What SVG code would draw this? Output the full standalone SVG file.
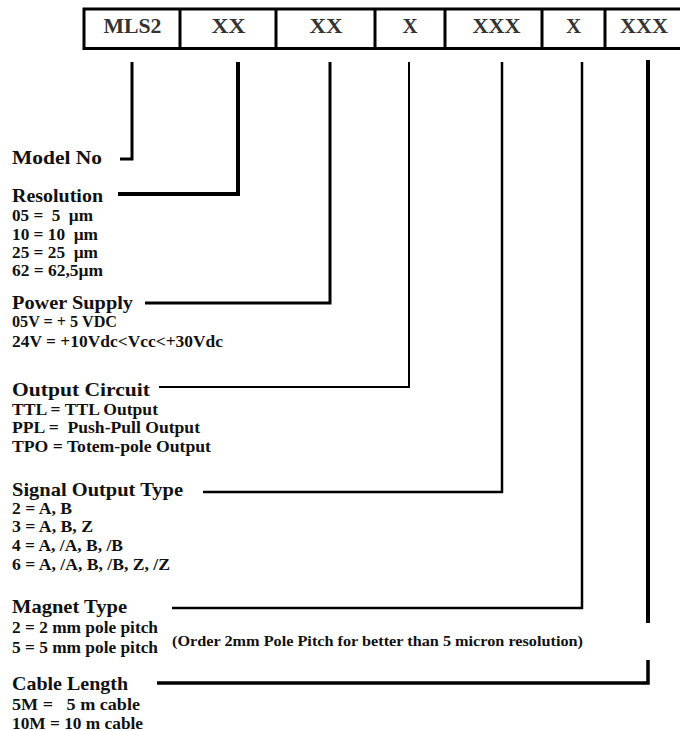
<svg xmlns="http://www.w3.org/2000/svg" width="680" height="731" viewBox="0 0 680 731">
<style>
text{font-family:"Liberation Serif","Times New Roman",serif;font-weight:bold;fill:#111}
.h{font-size:19px}
.i{font-size:16px}
.b{font-size:21px;fill:#333;text-anchor:middle}
.n{font-size:15px}
.box{fill:#fff;stroke:#000;stroke-width:3}
.c{fill:none;stroke:#000;stroke-linejoin:miter;stroke-linecap:butt}
</style>
<rect width="680" height="731" fill="#fff"/>
<g id="code-box">
<rect class="box" x="84" y="9" width="610" height="39.5"/>
<path class="c" stroke-width="3" d="M180 9V48.5M276 9V48.5M375 9V48.5M445 9V48.5M542 9V48.5M605 9V48.5"/>
<text class="b" x="132.5" y="33" textLength="58" lengthAdjust="spacingAndGlyphs">MLS2</text>
<text class="b" x="228.5" y="33" textLength="34" lengthAdjust="spacingAndGlyphs">XX</text>
<text class="b" x="326" y="33" textLength="33" lengthAdjust="spacingAndGlyphs">XX</text>
<text class="b" x="410" y="33">X</text>
<text class="b" x="496.5" y="33" textLength="48" lengthAdjust="spacingAndGlyphs">XXX</text>
<text class="b" x="573.5" y="33">X</text>
<text class="b" x="644" y="33" textLength="48" lengthAdjust="spacingAndGlyphs">XXX</text>
</g>
<g id="connectors">
<path class="c" stroke-width="3" d="M132 62V159H120"/>
<path class="c" stroke-width="4" d="M238 62V194H118"/>
<path class="c" stroke-width="3" d="M330 62V303H145"/>
<path class="c" stroke-width="2" d="M409 62V387H159"/>
<path class="c" stroke-width="2.5" d="M502 62V492H203"/>
<path class="c" stroke-width="2.5" d="M582 62V608H172"/>
<path class="c" stroke-width="4" d="M648 60V623"/>
<path class="c" stroke-width="3.5" d="M648 660V683H157"/>
</g>
<g id="model-no">
<text class="h" x="12" y="164" textLength="90" lengthAdjust="spacingAndGlyphs">Model No</text>
</g>
<g id="resolution">
<text class="h" x="12" y="202" textLength="91" lengthAdjust="spacingAndGlyphs">Resolution</text>
<text class="i" x="12" y="221" textLength="81" lengthAdjust="spacingAndGlyphs" xml:space="preserve">05 =  5  µm</text>
<text class="i" x="12" y="240" textLength="86" lengthAdjust="spacingAndGlyphs" xml:space="preserve">10 = 10  µm</text>
<text class="i" x="12" y="258" textLength="86" lengthAdjust="spacingAndGlyphs" xml:space="preserve">25 = 25  µm</text>
<text class="i" x="12" y="276" textLength="91" lengthAdjust="spacingAndGlyphs">62 = 62,5µm</text>
</g>
<g id="power-supply">
<text class="h" x="12" y="309" textLength="121" lengthAdjust="spacingAndGlyphs">Power Supply</text>
<text class="i" x="12" y="327" textLength="105" lengthAdjust="spacingAndGlyphs">05V = + 5 VDC</text>
<text class="i" x="12" y="347" textLength="211" lengthAdjust="spacingAndGlyphs">24V = +10Vdc&lt;Vcc&lt;+30Vdc</text>
</g>
<g id="output-circuit">
<text class="h" x="12" y="396" textLength="138" lengthAdjust="spacingAndGlyphs">Output Circuit</text>
<text class="i" x="12" y="415" textLength="146" lengthAdjust="spacingAndGlyphs">TTL = TTL Output</text>
<text class="i" x="12" y="433" textLength="188" lengthAdjust="spacingAndGlyphs" xml:space="preserve">PPL =  Push-Pull Output</text>
<text class="i" x="12" y="452" textLength="199" lengthAdjust="spacingAndGlyphs">TPO = Totem-pole Output</text>
</g>
<g id="signal-output-type">
<text class="h" x="12" y="496" textLength="171" lengthAdjust="spacingAndGlyphs">Signal Output Type</text>
<text class="i" x="12" y="514" textLength="60" lengthAdjust="spacingAndGlyphs">2 = A, B</text>
<text class="i" x="12" y="532" textLength="81" lengthAdjust="spacingAndGlyphs">3 = A, B, Z</text>
<text class="i" x="12" y="551" textLength="111" lengthAdjust="spacingAndGlyphs">4 = A, /A, B, /B</text>
<text class="i" x="12" y="570" textLength="158" lengthAdjust="spacingAndGlyphs">6 = A, /A, B, /B, Z, /Z</text>
</g>
<g id="magnet-type">
<text class="h" x="12" y="613" textLength="115" lengthAdjust="spacingAndGlyphs">Magnet Type</text>
<text class="i" x="12" y="633" textLength="146" lengthAdjust="spacingAndGlyphs">2 = 2 mm pole pitch</text>
<text class="i" x="12" y="653" textLength="146" lengthAdjust="spacingAndGlyphs">5 = 5 mm pole pitch</text>
<text class="n" x="172" y="646" textLength="411" lengthAdjust="spacingAndGlyphs">(Order 2mm Pole Pitch for better than 5 micron resolution)</text>
</g>
<g id="cable-length">
<text class="h" x="12" y="690" textLength="116" lengthAdjust="spacingAndGlyphs">Cable Length</text>
<text class="i" x="12" y="710" textLength="128" lengthAdjust="spacingAndGlyphs" xml:space="preserve">5M =   5 m cable</text>
<text class="i" x="12" y="729" textLength="131" lengthAdjust="spacingAndGlyphs">10M = 10 m cable</text>
</g>
</svg>
